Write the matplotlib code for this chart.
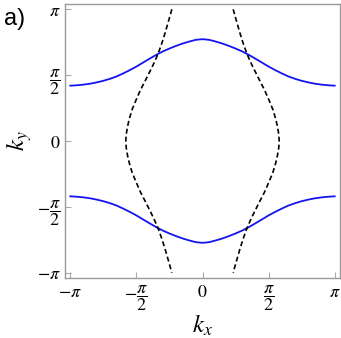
import numpy as np
import matplotlib
matplotlib.use("Agg")
import matplotlib.pyplot as plt

plt.rcParams['mathtext.fontset'] = 'stix'
plt.rcParams['font.family'] = ['Liberation Serif', 'DejaVu Serif']

# values in units of pi
band_kx_half = [0.0, 0.05, 0.1, 0.15, 0.2, 0.25, 0.3, 0.35, 0.4, 0.45, 0.5,
                0.55, 0.6, 0.65, 0.7, 0.75, 0.8, 0.85, 0.9, 0.95, 1.0]
band_ky_half = [0.773, 0.768, 0.755, 0.740, 0.722, 0.702, 0.680, 0.654, 0.625, 0.595, 0.565,
                0.538, 0.513, 0.490, 0.472, 0.457, 0.445, 0.435, 0.428, 0.423, 0.42]
band_kx = [-v for v in band_kx_half[::-1]] + band_kx_half[1:]
band_ky_upper = band_ky_half[::-1] + band_ky_half[1:]
band_ky_lower = [-v for v in band_ky_upper]

edge_ky_half = [1.0, 0.96, 0.9, 0.82, 0.75, 0.67, 0.6, 0.54, 0.46, 0.39, 0.31,
                0.24, 0.17, 0.11, 0.05, 0.0]
edge_kx_half = [-0.232, -0.243, -0.260, -0.283, -0.305, -0.333, -0.363, -0.392, -0.432,
                -0.468, -0.503, -0.532, -0.553, -0.567, -0.577, -0.58]
edge_ky = edge_ky_half + [-v for v in edge_ky_half[-2::-1]]
edge_kx_left = edge_kx_half + edge_kx_half[-2::-1]
edge_kx_right = [-v for v in edge_kx_left]

tick_vals = [-1, -0.5, 0, 0.5, 1]
tick_labels = [r'$-\pi$', r'$-\dfrac{\pi}{2}$', r'$0$', r'$\dfrac{\pi}{2}$', r'$\pi$']

fig = plt.figure(figsize=(3.41, 3.38), dpi=100)
ax = fig.add_axes([65 / 341, 60 / 338, 275 / 341, 274 / 338])

pi = np.pi
ax.plot(np.array(band_kx) * pi, np.array(band_ky_upper) * pi, color='#1414f0', lw=1.3)
ax.plot(np.array(band_kx) * pi, np.array(band_ky_lower) * pi, color='#1414f0', lw=1.3)
ax.plot(np.array(edge_kx_left) * pi, np.array(edge_ky) * pi, color='black', lw=1.2,
        dashes=(3.0, 1.8))
ax.plot(np.array(edge_kx_right) * pi, np.array(edge_ky) * pi, color='black', lw=1.2,
        dashes=(3.0, 1.8))

ax.set_xlim(-1.04 * pi, 1.04 * pi)
ax.set_ylim(-1.04 * pi, 1.04 * pi)
ax.set_xticks(np.array(tick_vals) * pi)
ax.set_xticklabels(tick_labels)
ax.set_yticks(np.array(tick_vals) * pi)
ax.set_yticklabels(tick_labels)
ax.tick_params(direction='in', length=4, width=0.8, color='#aaaaaa',
               labelsize=13)
ax.tick_params(axis='x', pad=4)
ax.tick_params(axis='y', pad=3)
for s in ax.spines.values():
    s.set_color('#999999')
    s.set_linewidth(1.0)

ax.text(0.5, -0.171, r'$k_x$', transform=ax.transAxes, ha='center', va='center',
        fontsize=18)
ax.text(-0.168, 0.5, r'$k_y$', transform=ax.transAxes, ha='center', va='center',
        fontsize=18, rotation=90)
fig.text(4 / 341, 1 - 19 / 338, 'a)', ha='left', va='center', fontsize=17,
         family='Liberation Sans')

fig.savefig('out.png', dpi=100)
